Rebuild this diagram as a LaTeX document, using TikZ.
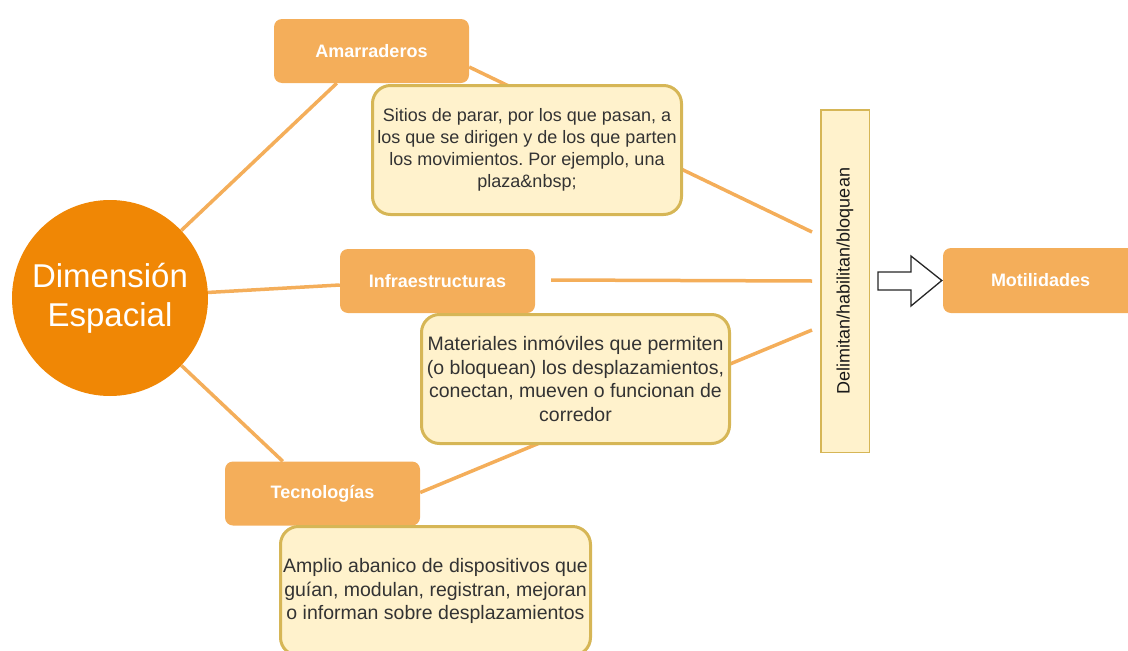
\documentclass[tikz,border=0pt]{standalone}
\usepackage{fontspec}
\setmainfont{Liberation Sans}
\usetikzlibrary{calc}
\definecolor{orc}{HTML}{F08705}
\definecolor{orb}{HTML}{F4AE5A}
\definecolor{yf}{HTML}{FFF2CC}
\definecolor{ys}{HTML}{D6B656}
\definecolor{txt}{HTML}{333333}
\pgfdeclarelayer{bg}
\pgfsetlayers{bg,main}
\frenchspacing
\begin{document}
\begin{tikzpicture}[x=1pt,y=-1pt,
 obox/.style={fill=orb, rounded corners=8pt, minimum width=195pt, minimum height=64pt, inner sep=0pt, text=white, font=\fontsize{18}{21.6}\selectfont\bfseries},
 ybox/.style={fill=yf, draw=ys, line width=3pt, rounded corners=18pt, inner sep=0pt, text=txt, align=center},
 link/.style={draw=orb, line width=3.5pt},
]
\useasboundingbox (0,0) rectangle (1128,651);
\clip (0,0) rectangle (1128,651);

\node[circle, fill=orc, minimum size=196pt, inner sep=0pt, text=white, align=center, font=\fontsize{33}{39}\selectfont] (c) at (110,298) {Dimensión\\Espacial};

\node[obox] (am) at (371.5,51) {Amarraderos};
\node[obox] (inf) at (437.5,281) {Infraestructuras};
\node[obox] (tec) at (322.5,493.5) {Tecnologías};
\node[obox, minimum height=65pt] (mot) at (1040.5,280.5) {Motilidades};

\node[ybox, minimum width=309pt, minimum height=129pt, font=\fontsize{18}{21.8}\selectfont] (sit) at (527,150)
 {Sitios de parar, por los que pasan, a\\los que se dirigen y de los que parten\\los movimientos. Por ejemplo, una\\plaza\&nbsp;};
\node[ybox, minimum width=308pt, minimum height=129pt, font=\fontsize{19.5}{23.4}\selectfont] (mat) at (575.5,379)
 {Materiales inmóviles que permiten\\(o bloquean) los desplazamientos,\\conectan, mueven o funcionan de\\corredor};
\node[ybox, minimum width=310pt, minimum height=129pt, font=\fontsize{19.5}{23.4}\selectfont] (amp) at (435.5,591)
 {Amplio abanico de dispositivos que\\guían, modulan, registran, mejoran\\o informan sobre desplazamientos};

\node[fill=yf, draw=ys, line width=1.5pt, minimum width=48.5pt, minimum height=342.5pt, inner sep=0pt] (dl) at (845,281) {};
\node[rotate=90, text=black!90, font=\fontsize{18}{21.6}\selectfont] (dlt) at (dl.center) {Delimitan/habilitan/bloquean};

\draw[black!85, line width=1.3pt, fill=white, line join=miter]
  ($(dl.east)+(8,-9)$) -- ($(dl.east)+(41,-9)$) -- ($(dl.east)+(41,-25)$) -- ($(mot.west)+(-1,0)$)
  -- ($(dl.east)+(41,25)$) -- ($(dl.east)+(41,9)$) -- ($(dl.east)+(8,9)$) -- cycle;

\begin{pgfonlayer}{bg}
\draw[link] (c) -- ($(am.south west)+(63,0)$);
\draw[link] (c) -- ($(inf.west)+(0,4)$);
\draw[link] (c) -- ($(tec.north west)+(58,0)$);
\draw[link] ($(am.east)+(0,16)$) -- ($(dl.west)+(-8,-49)$);
\draw[link] ($(inf.east)+(16,-1)$) -- ($(dl.west)+(-8,0)$);
\draw[link] ($(tec.east)+(0,-1)$) -- ($(dl.west)+(-8,49)$);
\end{pgfonlayer}
\end{tikzpicture}
\end{document}
